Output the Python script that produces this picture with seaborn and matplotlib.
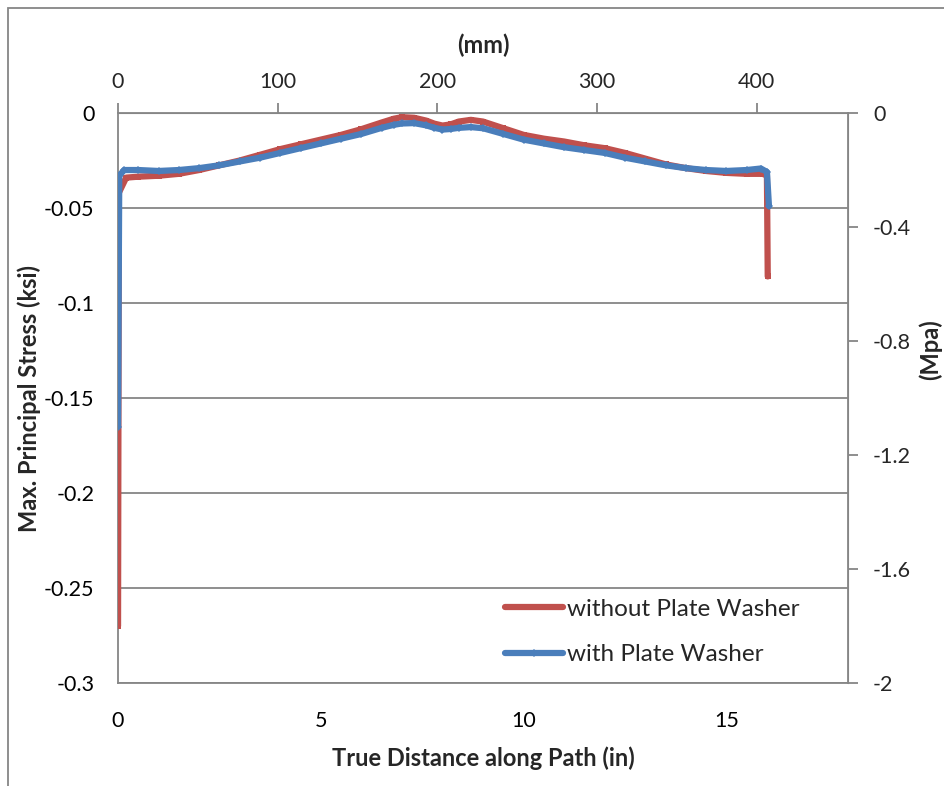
import pandas as pd
import seaborn as sns
import matplotlib
matplotlib.use("Agg")
import matplotlib.pyplot as plt
from matplotlib.patches import Rectangle

# Data (distance in inches, stress in ksi)
x_without = [0.0, 0.02, 0.2, 0.5, 1.0, 1.5, 2.0, 2.5, 3.0, 3.5, 4.0, 4.5, 5.0, 5.5,
             6.0, 6.5, 6.8, 7.0, 7.3, 7.6, 7.8, 8.0, 8.2, 8.4, 8.7, 9.0, 9.5, 10.0,
             10.5, 11.0, 11.5, 12.0, 12.5, 13.0, 13.5, 14.0, 14.5, 15.0, 15.5, 15.9,
             16.0, 16.02]
y_without = [-0.270, -0.042, -0.034, -0.0335, -0.033, -0.032, -0.030, -0.0275, -0.025,
             -0.022, -0.019, -0.0165, -0.014, -0.0115, -0.0085, -0.005, -0.003,
             -0.0022, -0.0025, -0.004, -0.0056, -0.0066, -0.006, -0.0045, -0.0036,
             -0.0045, -0.008, -0.0115, -0.0135, -0.015, -0.017, -0.0185, -0.021,
             -0.024, -0.027, -0.029, -0.0305, -0.0315, -0.032, -0.032, -0.033, -0.086]

x_with = [0.0, 0.03, 0.15, 0.5, 1.0, 1.5, 2.0, 2.5, 3.0, 3.5, 4.0, 4.5, 5.0, 5.5, 6.0,
          6.5, 6.8, 7.0, 7.3, 7.6, 7.8, 8.0, 8.2, 8.4, 8.7, 9.0, 9.5, 10.0, 10.5, 11.0,
          11.5, 12.0, 12.5, 13.0, 13.5, 14.0, 14.5, 15.0, 15.5, 15.85, 16.0, 16.05]
y_with = [-0.165, -0.033, -0.030, -0.030, -0.0305, -0.030, -0.029, -0.0275, -0.0255,
          -0.0235, -0.021, -0.0185, -0.016, -0.0135, -0.011, -0.0078, -0.0062, -0.0055,
          -0.0053, -0.0065, -0.0078, -0.0087, -0.0084, -0.0078, -0.0074, -0.008,
          -0.011, -0.014, -0.016, -0.018, -0.0195, -0.021, -0.0235, -0.0255, -0.0275,
          -0.029, -0.030, -0.0305, -0.030, -0.0292, -0.031, -0.049]

series_names = ["without Plate Washer", "with Plate Washer"]
x_ticks = [0, 5, 10, 15]
y_ticks = [0, -0.05, -0.1, -0.15, -0.2, -0.25, -0.3]
y_tick_labels = ["0", "-0.05", "-0.1", "-0.15", "-0.2", "-0.25", "-0.3"]
mm_ticks = [0, 100, 200, 300, 400]
mpa_ticks = [0, -0.4, -0.8, -1.2, -1.6, -2]
mpa_tick_labels = ["0", "-0.4", "-0.8", "-1.2", "-1.6", "-2"]

df = pd.concat([
    pd.DataFrame({"x": x_without, "y": y_without, "series": series_names[0]}),
    pd.DataFrame({"x": x_with, "y": y_with, "series": series_names[1]}),
])

sns.set_style("white")
plt.rcParams["font.family"] = ["Lato", "DejaVu Sans"]

grey = "#868686"
red = "#C0504D"
blue = "#4A7EBB"
tick_fs = 15.5
title_fs = 17

fig = plt.figure(figsize=(9.45, 7.86), dpi=100)
ax = fig.add_axes([0.1249, 0.1310, 0.7725, 0.7252])

sns.lineplot(data=df[df.series == series_names[0]], x="x", y="y", sort=False,
             color=red, lw=4.5, marker="s", markersize=5, markeredgewidth=0,
             label=series_names[0], ax=ax, zorder=3)
sns.lineplot(data=df[df.series == series_names[1]], x="x", y="y", sort=False,
             color=blue, lw=4.5, marker="D", markersize=4, markeredgewidth=0,
             label=series_names[1], ax=ax, zorder=4)

ax.set_xlim(0, 18)
ax.set_ylim(-0.3, 0)
ax.set_xticks(x_ticks)
ax.set_yticks(y_ticks)
ax.set_yticklabels(y_tick_labels)
ax.tick_params(axis="both", length=0, labelsize=tick_fs, colors="black")
ax.tick_params(axis="y", pad=17)
ax.tick_params(axis="x", pad=20)
ax.yaxis.grid(True, color=grey, lw=1.3)
ax.xaxis.grid(False)
for s in ax.spines.values():
    s.set_color(grey)
    s.set_linewidth(1.3)

ax.set_xlabel("True Distance along Path (in)", fontsize=title_fs, fontweight="bold", labelpad=11)
ax.set_ylabel("Max. Principal Stress (ksi)", fontsize=title_fs, fontweight="bold", labelpad=2)

# top axis in mm
top = ax.secondary_xaxis("top", functions=(lambda v: v * 25.4, lambda m: m / 25.4))
top.set_xticks(mm_ticks)
top.tick_params(length=7, width=1.3, color=grey, labelsize=tick_fs, pad=8)
top.spines["top"].set_color(grey)
top.set_xlabel("(mm)", fontsize=title_fs, fontweight="bold", labelpad=14)

# right axis in MPa
right = ax.secondary_yaxis("right", functions=(lambda v: v * 2 / 0.3, lambda m: m * 0.3 / 2))
right.set_yticks(mpa_ticks)
right.set_yticklabels(mpa_tick_labels)
right.tick_params(length=7, width=1.3, color=grey, labelsize=tick_fs, pad=11)
right.spines["right"].set_color(grey)
fig.text(0.985, 0.555, "(Mpa)", rotation=90, fontsize=title_fs, fontweight="bold",
         ha="center", va="center")

ax.legend(loc="lower right", bbox_to_anchor=(0.964, -0.007), frameon=False, fontsize=17.5,
          handlelength=2.35, handletextpad=0.2, labelspacing=1.0)

# outer chart border
fig.patches.append(Rectangle((8 / 945, -0.1), 2, 1.0898, transform=fig.transFigure,
                             fill=False, edgecolor=grey, lw=1.3))

fig.savefig("out.png", dpi=100)
